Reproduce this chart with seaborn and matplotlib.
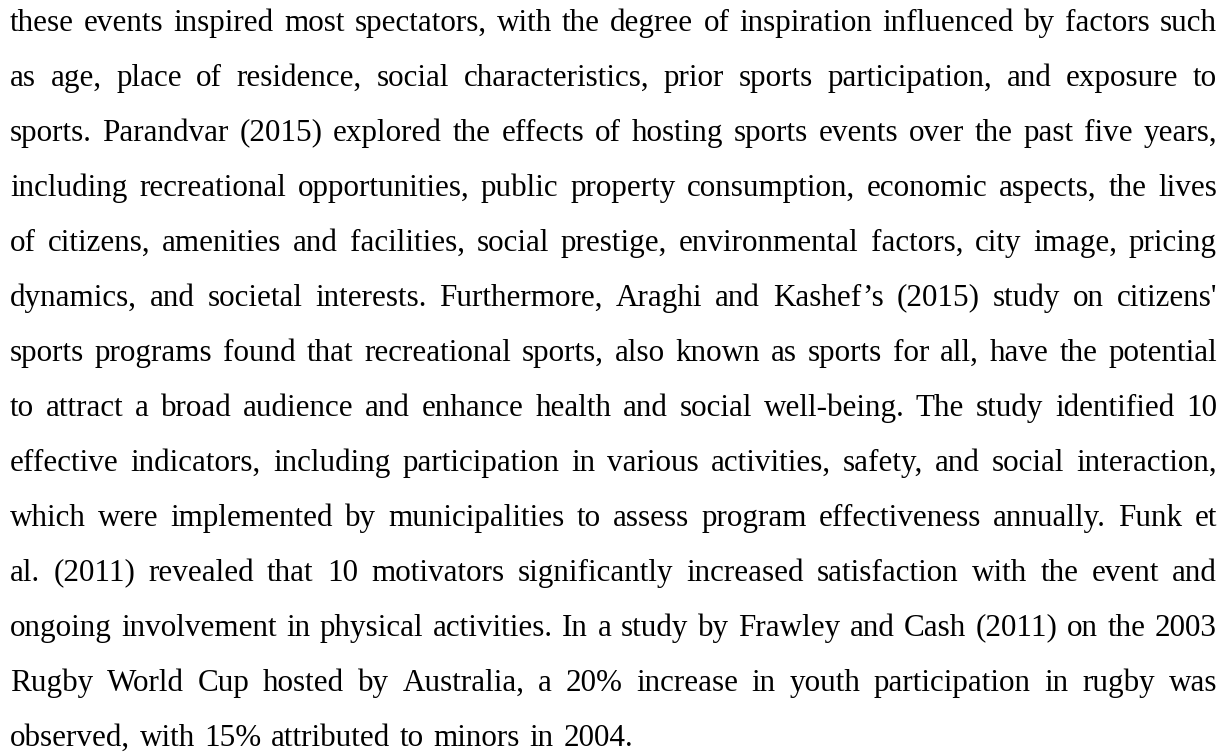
import math
import matplotlib
matplotlib.use("Agg")
import matplotlib.pyplot as plt
import seaborn as sns

# paragraph lines, as broken in the page
lines = [
    "these events inspired most spectators, with the degree of inspiration influenced by factors such",
    "as age, place of residence, social characteristics, prior sports participation, and exposure to",
    "sports. Parandvar (2015) explored the effects of hosting sports events over the past five years,",
    "including recreational opportunities, public property consumption, economic aspects, the lives",
    "of citizens, amenities and facilities, social prestige, environmental factors, city image, pricing",
    "dynamics, and societal interests. Furthermore, Araghi and Kashef\u2019s (2015) study on citizens'",
    "sports programs found that recreational sports, also known as sports for all, have the potential",
    "to attract a broad audience and enhance health and social well-being. The study identified 10",
    "effective indicators, including participation in various activities, safety, and social interaction,",
    "which were implemented by municipalities to assess program effectiveness annually. Funk et",
    "al. (2011) revealed that 10 motivators significantly increased satisfaction with the event and",
    "ongoing involvement in physical activities. In a study by Frawley and Cash (2011) on the 2003",
    "Rugby World Cup hosted by Australia, a 20% increase in youth participation in rugby was",
    "observed, with 15% attributed to minors in 2004.",
]

sns.set_theme(style="white")
plt.rcParams["font.family"] = ["Liberation Serif", "DejaVu Serif"]

W, H = 1232, 753
fig = plt.figure(figsize=(W / 100, H / 100), dpi=100)
fig.patch.set_facecolor("white")
renderer = fig.canvas.get_renderer()

left, right, last_right = 10, 1217, 633
top_base, step = 31, 55
fsize = 22.4


def put(ybase, word):
    t = fig.text(0, 0, word, fontsize=fsize, va="baseline", ha="left", color="black")
    # keep every word on the same pixel baseline
    _, _, d = renderer.get_text_width_height_descent(word, t.get_fontproperties(), ismath=False)
    t.set_y((H - ybase + (d - math.floor(d))) / H)
    return t


for i, line in enumerate(lines):
    ybase = top_base + i * step
    end = last_right if i == len(lines) - 1 else right
    words = line.split(" ")
    texts = [put(ybase, w) for w in words]
    widths = [t.get_window_extent(renderer).width for t in texts]
    gap = (end - left - sum(widths)) / (len(words) - 1)
    x = left
    for t, wd in zip(texts, widths):
        t.set_x(x / W)
        x += wd + gap

fig.savefig("out.png", dpi=100, facecolor="white")
